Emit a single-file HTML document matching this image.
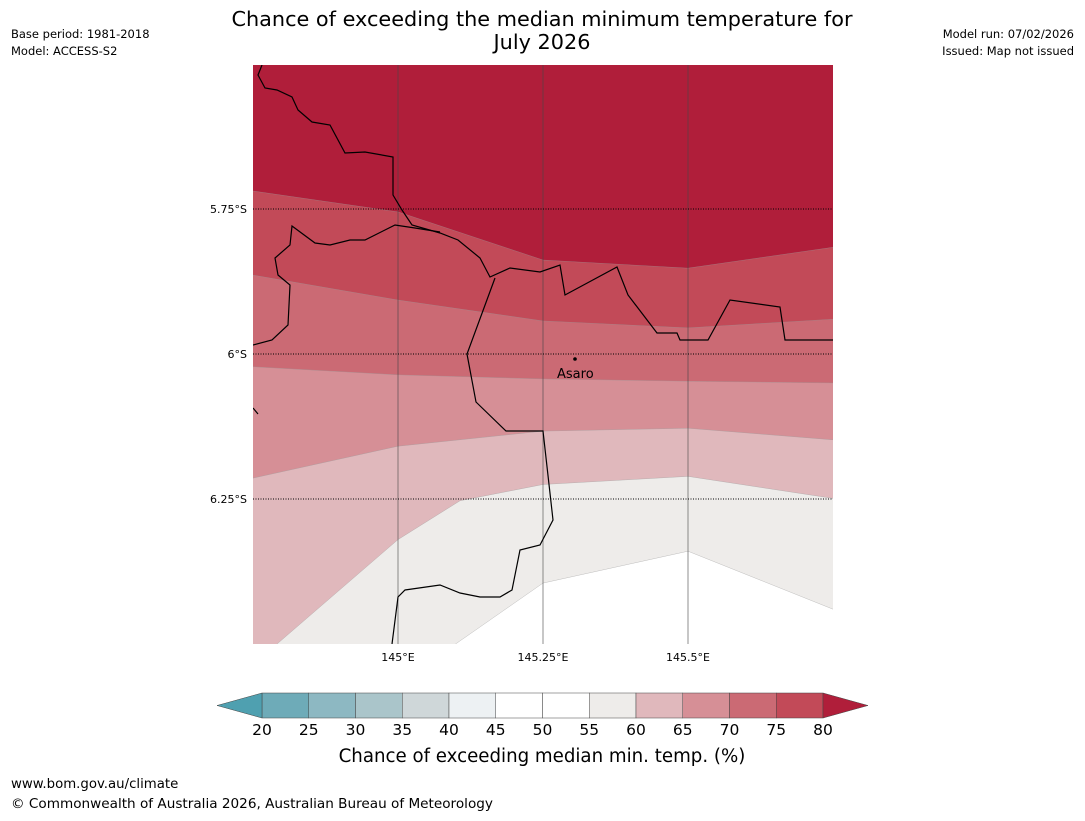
<!DOCTYPE html>
<html><head><meta charset="utf-8">
<style>
body{margin:0;background:#fff;font-family:"Liberation Sans","DejaVu Sans",sans-serif;}
svg text{font-family:"DejaVu Sans","Liberation Sans",sans-serif;}
</style></head>
<body>
<svg id="chart" width="1085" height="816" viewBox="0 0 1085 816">
<text x="542" y="26" font-size="20.8" text-anchor="middle">Chance of exceeding the median minimum temperature for</text>
<text x="542" y="49" font-size="20.8" text-anchor="middle">July 2026</text>
<text x="11" y="38" font-size="11.5">Base period: 1981-2018</text>
<text x="11" y="55" font-size="11.5">Model: ACCESS-S2</text>
<text x="1074" y="38" font-size="11.5" text-anchor="end">Model run: 07/02/2026</text>
<text x="1074" y="55" font-size="11.5" text-anchor="end">Issued: Map not issued</text>
<defs><clipPath id="mapclip"><rect x="253" y="65" width="580" height="579"/></clipPath></defs>
<g id="map" clip-path="url(#mapclip)">
<rect x="253" y="65" width="580" height="579" fill="#ffffff"/>
<g id="bands"></g>
<g id="grid"></g>
<path d="M262,65 L258,75 L265,88 L277,90 L292,97 L298,110 L312,122 L330,125 L345,153 L365,152 L393,157 L393,195 L402,210 L412,225 L440,233 L458,240 L480,258 L490,277 L510,268 L540,272 L560,265 L565,295 L617,267 L628,295 L657,333 L677,333 L680,340 L708,340 L730,300 L780,307 L785,340 L833,340" fill="none" stroke="#000" stroke-width="1.2"/>
<path d="M253,345 L272,340 L288,325 L290,285 L278,275 L275,258 L290,245 L292,226 L315,243 L330,245 L350,240 L365,240 L395,225 L415,228 L440,232" fill="none" stroke="#000" stroke-width="1.2"/>
<path d="M495,278 L467,354 L476,402 L506,431 L543,431 L553,520 L540,545 L520,550 L512,590 L500,597 L480,597 L460,593 L440,585 L405,590 L398,597 L392,644" fill="none" stroke="#000" stroke-width="1.2"/>
<path d="M253,408 L258,414" fill="none" stroke="#000" stroke-width="1.2"/>
<circle cx="575" cy="359" r="1.8" fill="#000"/>
<text x="557" y="378" font-size="13">Asaro</text>
</g>
<g id="ticks"></g>
<g id="colorbar"></g>
<text x="542" y="762" font-size="18.2" text-anchor="middle">Chance of exceeding median min. temp. (%)</text>
<text x="11" y="788" font-size="13.3">www.bom.gov.au/climate</text>
<text x="11" y="808" font-size="13.6">© Commonwealth of Australia 2026, Australian Bureau of Meteorology</text>
</svg>
<script>
// Axis data
const lonTicks=[145,145.25,145.5];
const lonTickLabels=["145°E","145.25°E","145.5°E"];
const latTicks=[5.75,6,6.25];
const latTickLabels=["5.75°S","6°S","6.25°S"];
// contour boundaries: longitudes and latitudes (°S)
const contourLons=[144.75,145,145.25,145.5,145.75];
const c75=[5.719,5.755,5.838,5.852,5.816];
const c70=[5.864,5.907,5.943,5.955,5.940];
const c65=[6.022,6.036,6.043,6.047,6.050];
const c60=[6.214,6.159,6.133,6.128,6.148];
const c55Lons=[144.788,145,145.107,145.25,145.5,145.75];
const c55=[6.503,6.320,6.253,6.225,6.211,6.249];
const c50Lons=[145.095,145.25,145.5,145.75];
const c50=[6.503,6.395,6.340,6.440];
const bandColors=["#b01e3a","#c24a58","#cb6a74","#d68f96","#e0b8bc","#eeecea","#ffffff"];
// colorbar
const cbLevels=[20,25,30,35,40,45,50,55,60,65,70,75,80];
const cbColors=["#6eabb8","#8db8c2","#aac5ca","#cfd7d9","#edf1f3","#ffffff","#ffffff","#eeecea","#e0b8bc","#d68f96","#cb6a74","#c24a58"];
const cbLowColor="#4fa0b0", cbHighColor="#b01e3a";

const NS="http://www.w3.org/2000/svg";
const X=lon=>398+(lon-145)*580;
const Y=lat=>209+(lat-5.75)*580;
function mk(tag,attrs,parent){const e=document.createElementNS(NS,tag);for(const k in attrs)e.setAttribute(k,attrs[k]);parent.appendChild(e);return e;}
function pts(lons,lats){return lons.map((l,i)=>X(l)+","+Y(lats[i])).join(" ");}

const bands=document.getElementById("bands");
const topY=Y(5.45), botY=Y(6.7), leftX=X(144.7), rightX=X(145.8);
function region(lons,lats,color,name){
  const p=mk("polygon",{points:leftX+","+botY+" "+leftX+","+Y(lats[0])+" "+pts(lons,lats)+" "+rightX+","+Y(lats[lats.length-1])+" "+rightX+","+botY,fill:color,stroke:"#999","stroke-width":0.3},bands);
  
  
}
const bg=mk("rect",{x:leftX,y:topY,width:rightX-leftX,height:botY-topY,fill:bandColors[0]},bands);


region(contourLons,c75,bandColors[1],"band-70-75");
region(contourLons,c70,bandColors[2],"band-65-70");
region(contourLons,c65,bandColors[3],"band-60-65-dark");
region(contourLons,c60,bandColors[4],"band-60-65");
region(c55Lons,c55,bandColors[5],"band-55-60");
region(c50Lons,c50,bandColors[6],"band-50-55");

const grid=document.getElementById("grid");
lonTicks.forEach(l=>{
  const g=mk("line",{x1:X(l),x2:X(l),y1:65,y2:644,stroke:"#444","stroke-opacity":0.6,"stroke-width":1},grid);
  
  
});
latTicks.forEach(l=>{
  const g=mk("line",{x1:253,x2:833,y1:Y(l),y2:Y(l),stroke:"#000","stroke-width":1,"stroke-dasharray":"1,1.5"},grid);
  
  
});
const ticks=document.getElementById("ticks");
lonTicks.forEach((l,i)=>{
  const t=mk("text",{x:X(l),y:661,"font-size":11,"text-anchor":"middle"},ticks);
  t.textContent=lonTickLabels[i];
  
  
});
latTicks.forEach((l,i)=>{
  const t=mk("text",{x:247,y:Y(l)+4,"font-size":11,"text-anchor":"end"},ticks);
  t.textContent=latTickLabels[i];
  
  
});

const cb=document.getElementById("colorbar");
const cx0=262,cx1=823,cy0=693,cy1=718;
const cw=(cx1-cx0)/(cbLevels.length-1);
const CX=v=>cx0+(v-cbLevels[0])/5*cw;
cbColors.forEach((c,i)=>{
  const r=mk("rect",{x:CX(cbLevels[i]),y:cy0,width:cw,height:cy1-cy0,fill:c,stroke:"#444","stroke-width":0.5},cb);
  
  
});
const lt=mk("polygon",{points:cx0+","+cy0+" "+(cx0-45)+","+(cy0+cy1)/2+" "+cx0+","+cy1,fill:cbLowColor,stroke:"#444","stroke-width":0.5},cb);


const rt=mk("polygon",{points:cx1+","+cy0+" "+(cx1+45)+","+(cy0+cy1)/2+" "+cx1+","+cy1,fill:cbHighColor,stroke:"#444","stroke-width":0.5},cb);


cbLevels.forEach(v=>{
  const t=mk("text",{x:CX(v),y:735,"font-size":15.5,"text-anchor":"middle"},cb);
  t.textContent=v;
  
  
});
</script>
</body></html>
